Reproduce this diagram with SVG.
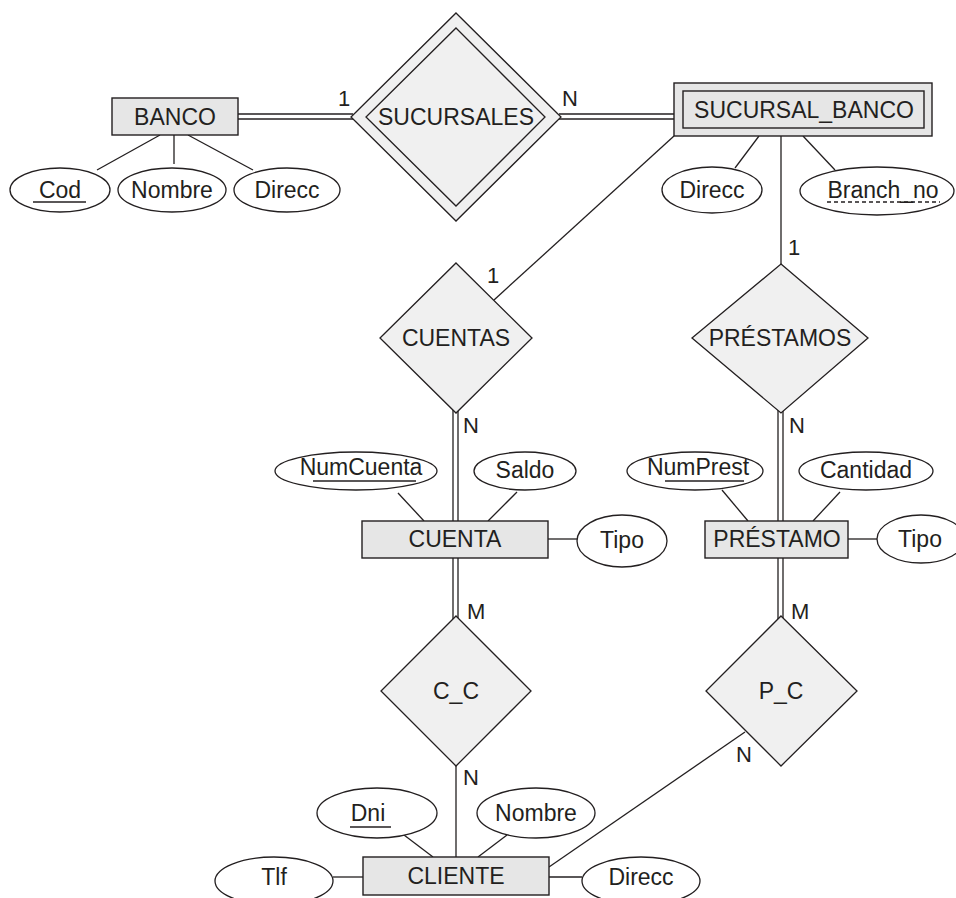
<svg xmlns="http://www.w3.org/2000/svg" width="956" height="898" viewBox="0 0 956 898">
<style>
.ent{fill:#e6e6e6;stroke:#231f20;stroke-width:1.4}
.rel{fill:#f0f0f0;stroke:#231f20;stroke-width:1.3}
.att{fill:#ffffff;stroke:#231f20;stroke-width:1.3}
.ln{stroke:#231f20;stroke-width:1.3;fill:none}
.t{font-family:"Liberation Sans",Arial,sans-serif;font-size:23px;fill:#231f20;text-anchor:middle}
.c{font-family:"Liberation Sans",Arial,sans-serif;font-size:22px;fill:#231f20}
</style>
<rect width="956" height="898" fill="#ffffff"/>
<g id="connectors">
<line class="ln" x1="238" y1="114" x2="353" y2="114"/>
<line class="ln" x1="238" y1="119" x2="353" y2="119"/>
<line class="ln" x1="559" y1="114" x2="674" y2="114"/>
<line class="ln" x1="559" y1="119" x2="674" y2="119"/>
<line class="ln" x1="160" y1="135" x2="97" y2="170"/>
<line class="ln" x1="174" y1="135" x2="174" y2="164"/>
<line class="ln" x1="188" y1="135" x2="253" y2="170"/>
<line class="ln" x1="674" y1="136" x2="494" y2="300"/>
<line class="ln" x1="759" y1="136" x2="735" y2="168"/>
<line class="ln" x1="803" y1="136" x2="835" y2="170"/>
<line class="ln" x1="781" y1="136" x2="781" y2="264"/>
<line class="ln" x1="453" y1="410" x2="453" y2="521"/>
<line class="ln" x1="458" y1="410" x2="458" y2="521"/>
<line class="ln" x1="778" y1="410" x2="778" y2="521"/>
<line class="ln" x1="783" y1="410" x2="783" y2="521"/>
<line class="ln" x1="398" y1="493" x2="424" y2="521"/>
<line class="ln" x1="517" y1="492" x2="488" y2="521"/>
<line class="ln" x1="548" y1="539" x2="577" y2="539"/>
<line class="ln" x1="722" y1="490" x2="748" y2="521"/>
<line class="ln" x1="840" y1="492" x2="813" y2="521"/>
<line class="ln" x1="848" y1="539" x2="877" y2="539"/>
<line class="ln" x1="453" y1="558" x2="453" y2="619"/>
<line class="ln" x1="458" y1="558" x2="458" y2="619"/>
<line class="ln" x1="778" y1="558" x2="778" y2="619"/>
<line class="ln" x1="783" y1="558" x2="783" y2="619"/>
<line class="ln" x1="456" y1="766" x2="456" y2="857"/>
<line class="ln" x1="745" y1="732" x2="549" y2="867"/>
<line class="ln" x1="404" y1="835" x2="433" y2="857"/>
<line class="ln" x1="507" y1="835" x2="478" y2="857"/>
<line class="ln" x1="333" y1="877" x2="363" y2="877"/>
<line class="ln" x1="549" y1="877" x2="582" y2="877"/>
<text class="c" x="338" y="106">1</text>
<text class="c" x="562" y="106">N</text>
<text class="c" x="487" y="283">1</text>
<text class="c" x="788" y="255">1</text>
<text class="c" x="463" y="433">N</text>
<text class="c" x="789" y="433">N</text>
<text class="c" x="467" y="619">M</text>
<text class="c" x="791" y="619">M</text>
<text class="c" x="463" y="785">N</text>
<text class="c" x="736" y="762">N</text>
</g>
<g id="BANCO">
<rect class="ent" x="112" y="98" width="126" height="37"/>
<text class="t" x="175" y="125">BANCO</text>
</g>
<g id="BANCO_Cod">
<ellipse class="att" cx="60" cy="190" rx="50" ry="22"/>
<text class="t" x="60" y="198">Cod</text>
<line class="ln" x1="33" y1="202" x2="86" y2="202"/>
</g>
<g id="BANCO_Nombre">
<ellipse class="att" cx="172" cy="190" rx="54" ry="22"/>
<text class="t" x="172" y="198">Nombre</text>
</g>
<g id="BANCO_Direcc">
<ellipse class="att" cx="287" cy="190" rx="53" ry="22"/>
<text class="t" x="287" y="198">Direcc</text>
</g>
<g id="SUCURSALES">
<polygon class="rel" points="456,13 561,117 456,221 351,117"/>
<polygon class="rel" points="456,28 545,117 456,206 366,117"/>
<text class="t" x="456" y="125">SUCURSALES</text>
</g>
<g id="SUCURSAL_BANCO">
<rect class="ent" x="674" y="83" width="258" height="53"/>
<rect class="ent" x="683" y="91" width="241" height="37"/>
<text class="t" x="804" y="118">SUCURSAL_BANCO</text>
</g>
<g id="SB_Direcc">
<ellipse class="att" cx="712" cy="190" rx="50" ry="23"/>
<text class="t" x="712" y="198">Direcc</text>
</g>
<g id="SB_Branch_no">
<ellipse class="att" cx="877" cy="191" rx="77" ry="24"/>
<text class="t" x="883" y="198">Branch_no</text>
<line class="ln" x1="827" y1="202" x2="940" y2="202" stroke-dasharray="4,3"/>
</g>
<g id="CUENTAS">
<polygon class="rel" points="456,263 532,338 456,413 380,338"/>
<text class="t" x="456" y="346">CUENTAS</text>
</g>
<g id="PRESTAMOS">
<polygon class="rel" points="781,264 868,338 781,413 692,338"/>
<text class="t" x="780" y="346">PRÉSTAMOS</text>
</g>
<g id="CUENTA">
<rect class="ent" x="362" y="521" width="186" height="37"/>
<text class="t" x="455" y="547">CUENTA</text>
</g>
<g id="CUENTA_NumCuenta">
<ellipse class="att" cx="356" cy="471" rx="81" ry="19"/>
<text class="t" x="361" y="475">NumCuenta</text>
<line class="ln" x1="313" y1="481" x2="416" y2="481"/>
</g>
<g id="CUENTA_Saldo">
<ellipse class="att" cx="525" cy="471" rx="51" ry="19"/>
<text class="t" x="525" y="478">Saldo</text>
</g>
<g id="CUENTA_Tipo">
<ellipse class="att" cx="622" cy="541" rx="45" ry="26"/>
<text class="t" x="622" y="548">Tipo</text>
</g>
<g id="PRESTAMO">
<rect class="ent" x="705" y="521" width="143" height="37"/>
<text class="t" x="777" y="547">PRÉSTAMO</text>
</g>
<g id="PRESTAMO_NumPrest">
<ellipse class="att" cx="695" cy="471" rx="68" ry="19"/>
<text class="t" x="698" y="475">NumPrest</text>
<line class="ln" x1="665" y1="481" x2="744" y2="481"/>
</g>
<g id="PRESTAMO_Cantidad">
<ellipse class="att" cx="866" cy="471" rx="67" ry="19"/>
<text class="t" x="866" y="478">Cantidad</text>
</g>
<g id="PRESTAMO_Tipo">
<ellipse class="att" cx="921" cy="539" rx="44" ry="24"/>
<text class="t" x="920" y="547">Tipo</text>
</g>
<g id="C_C">
<polygon class="rel" points="456,616 531,691 456,766 381,691"/>
<text class="t" x="456" y="699">C_C</text>
</g>
<g id="P_C">
<polygon class="rel" points="781,616 857,691 781,766 706,691"/>
<text class="t" x="781" y="699">P_C</text>
</g>
<g id="CLIENTE">
<rect class="ent" x="363" y="857" width="186" height="38"/>
<text class="t" x="456" y="884">CLIENTE</text>
</g>
<g id="CLIENTE_Dni">
<ellipse class="att" cx="377" cy="813" rx="60" ry="25"/>
<text class="t" x="368" y="821">Dni</text>
<line class="ln" x1="350" y1="827" x2="391" y2="827"/>
</g>
<g id="CLIENTE_Nombre">
<ellipse class="att" cx="536" cy="813" rx="59" ry="25"/>
<text class="t" x="536" y="821">Nombre</text>
</g>
<g id="CLIENTE_Tlf">
<ellipse class="att" cx="274" cy="881" rx="59" ry="24"/>
<text class="t" x="274" y="885">Tlf</text>
</g>
<g id="CLIENTE_Direcc">
<ellipse class="att" cx="641" cy="881" rx="59" ry="24"/>
<text class="t" x="641" y="885">Direcc</text>
</g>
</svg>
